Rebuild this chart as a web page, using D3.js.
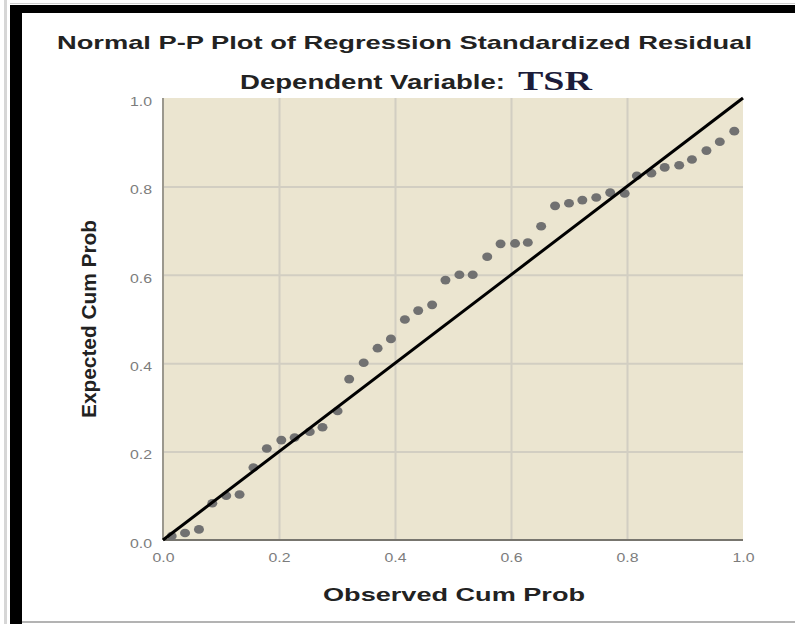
<!DOCTYPE html>
<html>
<head>
<meta charset="utf-8">
<script src="https://cdn.jsdelivr.net/npm/d3@7"></script>
<style>
  body { margin: 0; background: #fff; }
  svg { display: block; }
</style>
</head>
<body>
<div id="chart"></div>
<script>
// observed vs expected cumulative probability
const observed = [0.015, 0.038, 0.062, 0.085, 0.109, 0.132, 0.156, 0.179, 0.204, 0.227,
  0.253, 0.275, 0.301, 0.321, 0.346, 0.370, 0.393, 0.417, 0.440, 0.464,
  0.487, 0.511, 0.534, 0.559, 0.582, 0.607, 0.629, 0.652, 0.676, 0.700,
  0.723, 0.747, 0.771, 0.796, 0.817, 0.842, 0.865, 0.890, 0.912, 0.937,
  0.960, 0.985];
const expected = [0.009, 0.016, 0.024, 0.083, 0.100, 0.103, 0.164, 0.207, 0.226, 0.232,
  0.245, 0.255, 0.292, 0.364, 0.401, 0.434, 0.455, 0.499, 0.519, 0.532,
  0.588, 0.600, 0.600, 0.641, 0.670, 0.671, 0.673, 0.710, 0.756, 0.762,
  0.769, 0.775, 0.786, 0.784, 0.824, 0.830, 0.843, 0.848, 0.861, 0.881,
  0.901, 0.925];
const tickValues = [0, 0.2, 0.4, 0.6, 0.8, 1.0];
const titleText = "Normal P-P Plot of Regression Standardized Residual";
const subtitleText = "Dependent Variable:";
const depVar = "TSR";
const xTitle = "Observed Cum Prob";
const yTitle = "Expected Cum Prob";

const w = 795;
const h = 624;
const plot = {left: 163, right: 743, top: 98, bottom: 540};

const svg = d3.select("#chart").append("svg")
  .attr("width", w)
  .attr("height", h);

// frame round the picture
svg.append("rect").attr("x", 4).attr("y", 0).attr("width", 3).attr("height", h).attr("fill", "#d6d6d6");
svg.append("rect").attr("x", 10).attr("y", 5).attr("width", 12).attr("height", h - 5).attr("fill", "#000");
svg.append("rect").attr("x", 10).attr("y", 5).attr("width", w - 10).attr("height", 8).attr("fill", "#000");
svg.append("line").attr("x1", 10).attr("x2", w).attr("y1", 3.5).attr("y2", 3.5)
  .attr("stroke", "#cfcfcf").attr("stroke-width", 1);
svg.append("line").attr("x1", 22).attr("x2", w).attr("y1", 622).attr("y2", 622)
  .attr("stroke", "#9a9a9a").attr("stroke-width", 1.5);

const x = d3.scaleLinear().domain([0, 1]).range([plot.left, plot.right]);
const y = d3.scaleLinear().domain([0, 1]).range([plot.bottom, plot.top]);

// plot background
svg.append("rect")
  .attr("x", plot.left).attr("y", plot.top)
  .attr("width", plot.right - plot.left).attr("height", plot.bottom - plot.top)
  .attr("fill", "#ebe5d0");

// gridlines
svg.append("g")
  .attr("transform", `translate(0,${plot.bottom})`)
  .call(d3.axisBottom(x).tickValues(tickValues.slice(1, -1)).tickSize(-(plot.bottom - plot.top)).tickFormat(""))
  .call(g => g.select(".domain").remove())
  .call(g => g.selectAll("line").attr("stroke", "#d2cec2").attr("stroke-width", 2));
svg.append("g")
  .attr("transform", `translate(${plot.left},0)`)
  .call(d3.axisLeft(y).tickValues(tickValues.slice(1, -1)).tickSize(-(plot.right - plot.left)).tickFormat(""))
  .call(g => g.select(".domain").remove())
  .call(g => g.selectAll("line").attr("stroke", "#d2cec2").attr("stroke-width", 2));

// axis lines
svg.append("line").attr("x1", plot.left).attr("x2", plot.left).attr("y1", plot.top).attr("y2", plot.bottom)
  .attr("stroke", "#9b988e").attr("stroke-width", 2);
svg.append("line").attr("x1", plot.left).attr("x2", plot.right).attr("y1", plot.bottom).attr("y2", plot.bottom)
  .attr("stroke", "#77756e").attr("stroke-width", 2);

// tick labels
svg.append("g")
  .attr("transform", `translate(0,${plot.bottom})`)
  .call(d3.axisBottom(x).tickValues(tickValues).tickSize(0).tickPadding(13).tickFormat(d3.format(".1f")))
  .call(g => g.select(".domain").remove())
  .call(g => g.selectAll("text")
    .attr("font-family", "Liberation Sans, Arial, sans-serif")
    .attr("font-size", 12).attr("fill", "#7c7c7c")
    .attr("textLength", 22).attr("lengthAdjust", "spacingAndGlyphs"));
svg.append("g")
  .attr("transform", `translate(${plot.left},0)`)
  .call(d3.axisLeft(y).tickValues(tickValues).tickSize(0).tickPadding(11).tickFormat(d3.format(".1f")))
  .call(g => g.select(".domain").remove())
  .call(g => g.selectAll("text")
    .attr("dy", "0.6em")
    .attr("font-family", "Liberation Sans, Arial, sans-serif")
    .attr("font-size", 12).attr("fill", "#7c7c7c")
    .attr("textLength", 22).attr("lengthAdjust", "spacingAndGlyphs"));

// points (a touch wider than tall, like the stretched original)
const pts = observed.map((o, i) => ({o: o, e: expected[i]}));
svg.append("g").selectAll("ellipse")
  .data(pts)
  .enter()
  .append("ellipse")
  .attr("cx", d => x(d.o))
  .attr("cy", d => y(d.e))
  .attr("rx", 5)
  .attr("ry", 4.3)
  .attr("fill", "#717171");

// reference diagonal
svg.append("line")
  .attr("x1", x(0)).attr("y1", y(0))
  .attr("x2", x(1)).attr("y2", y(1))
  .attr("stroke", "#000").attr("stroke-width", 3);

// titles
svg.append("text")
  .attr("x", 57).attr("y", 49)
  .attr("font-family", "Liberation Sans, Arial, sans-serif")
  .attr("font-weight", "bold").attr("font-size", 19).attr("fill", "#222")
  .attr("textLength", 695).attr("lengthAdjust", "spacingAndGlyphs")
  .text(titleText);
svg.append("text")
  .attr("x", 240).attr("y", 89)
  .attr("font-family", "Liberation Sans, Arial, sans-serif")
  .attr("font-weight", "bold").attr("font-size", 21).attr("fill", "#222")
  .attr("textLength", 265).attr("lengthAdjust", "spacingAndGlyphs")
  .text(subtitleText);
svg.append("text")
  .attr("x", 518).attr("y", 90)
  .attr("font-family", "Liberation Serif, Times New Roman, serif")
  .attr("font-weight", "bold").attr("font-size", 27).attr("fill", "#1c1c3a")
  .attr("textLength", 74).attr("lengthAdjust", "spacingAndGlyphs")
  .text(depVar);

svg.append("text")
  .attr("x", 323).attr("y", 601)
  .attr("font-family", "Liberation Sans, Arial, sans-serif")
  .attr("font-weight", "bold").attr("font-size", 19).attr("fill", "#222")
  .attr("textLength", 262).attr("lengthAdjust", "spacingAndGlyphs")
  .text(xTitle);
svg.append("text")
  .attr("transform", "translate(96,418) rotate(-90)")
  .attr("font-family", "Liberation Sans Narrow, Liberation Sans, Arial, sans-serif")
  .attr("font-weight", "bold").attr("font-size", 20).attr("fill", "#222")
  .attr("textLength", 198).attr("lengthAdjust", "spacingAndGlyphs")
  .text(yTitle);
</script>
</body>
</html>
